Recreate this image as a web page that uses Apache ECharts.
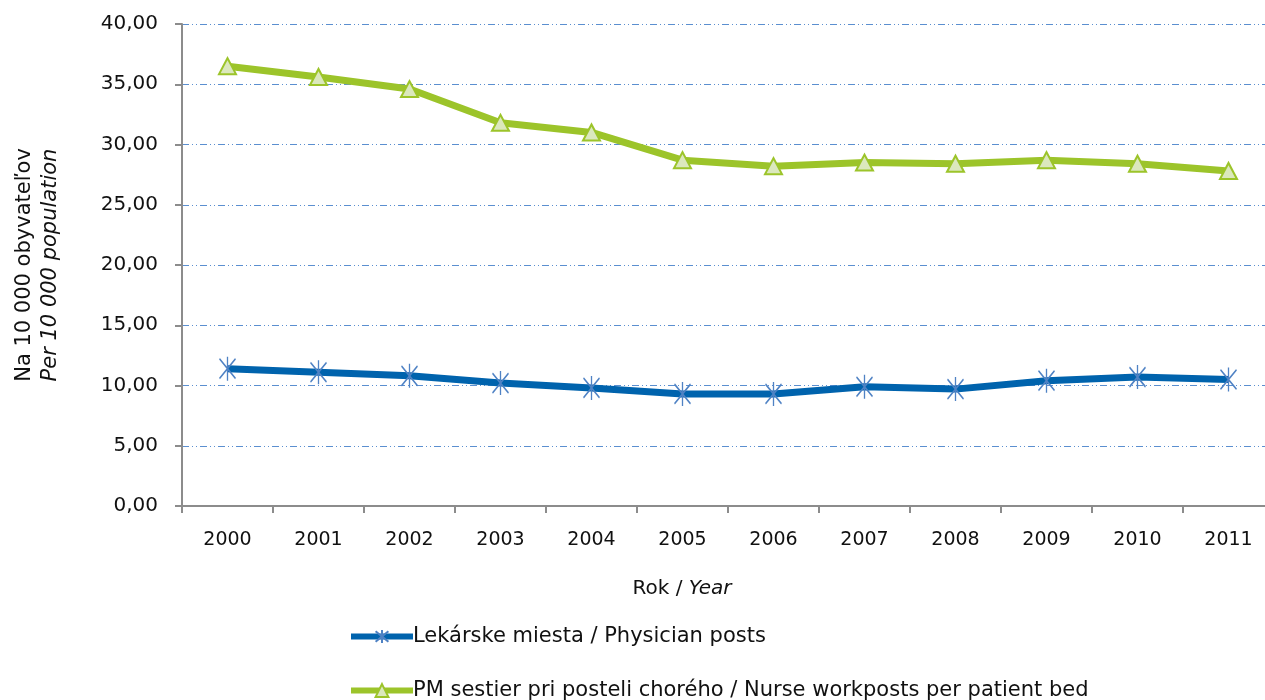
<!DOCTYPE html>
<html>
<head>
<meta charset="utf-8">
<script src="https://cdn.jsdelivr.net/npm/echarts@6/dist/echarts.min.js"></script>
<style>html,body{margin:0;padding:0;background:#fff}#c{width:1265px;height:700px}</style>
</head>
<body>
<div id="c"></div>
<script>
const years = ['2000','2001','2002','2003','2004','2005','2006','2007','2008','2009','2010','2011'];
const physicianPosts = [11.4, 11.1, 10.8, 10.2, 9.8, 9.3, 9.3, 9.9, 9.7, 10.4, 10.7, 10.5];
const nursePosts = [36.5, 35.6, 34.6, 31.8, 31.0, 28.7, 28.2, 28.5, 28.4, 28.7, 28.4, 27.8];
const yTicks = {min: 0, max: 40, interval: 5};
const physicianName = 'Lekárske miesta / Physician posts';
const nurseName = 'PM sestier pri posteli chorého / Nurse workposts per patient bed';

const font = 'DejaVu Sans';
const legendCommon = {
  orient: 'horizontal',
  left: 343,
  itemWidth: 62,
  itemHeight: 16,
  lineStyle: {width: 6},
  textStyle: {color: '#111', fontSize: 21, fontFamily: font, padding: [0, 0, 0, -5]}
};
const chart = echarts.init(document.getElementById('c'));
chart.setOption({
  animation: false,
  textStyle: {fontFamily: font},
  grid: {left: 182, right: -9, top: 24, bottom: 194, outerBoundsMode: 'none', containLabel: false},
  xAxis: {
    type: 'category',
    data: years,
    boundaryGap: true,
    axisLine: {lineStyle: {color: '#8c8c8c', width: 2}},
    axisTick: {show: true, length: 7, lineStyle: {color: '#8c8c8c', width: 2}},
    axisLabel: {color: '#111', fontSize: 19, margin: 25, fontFamily: font},
    name: 'Rok / {i|Year}',
    nameLocation: 'middle',
    nameGap: 73,
    nameTextStyle: {color: '#111', fontSize: 20, fontFamily: font, padding: [0, 92, 0, 0],
      rich: {i: {fontStyle: 'italic', fontSize: 20, color: '#111', fontFamily: font}}}
  },
  yAxis: {
    type: 'value',
    min: yTicks.min, max: yTicks.max, interval: yTicks.interval,
    axisLine: {show: true, lineStyle: {color: '#8c8c8c', width: 2}},
    axisTick: {show: true, length: 7, inside: false, lineStyle: {color: '#8c8c8c', width: 2}},
    axisLabel: {color: '#111', fontSize: 20, margin: 24, fontFamily: font,
      formatter: v => v.toFixed(2).replace('.', ',')},
    splitLine: {show: true, lineStyle: {color: '#5b8fd0', width: 1, type: [7, 3, 1, 3, 1, 3]}},
    name: 'Na 10 000 obyvateľov\n{i|Per 10 000 population}',
    nameLocation: 'middle',
    nameGap: 118,
    nameRotate: 90,
    nameTextStyle: {color: '#111', fontSize: 21, fontFamily: font, lineHeight: 26,
      rich: {i: {fontStyle: 'italic', fontSize: 21, color: '#111', fontFamily: font, lineHeight: 26}}}
  },
  legend: [
    Object.assign({}, legendCommon, {top: 621, data: [physicianName]}),
    Object.assign({}, legendCommon, {top: 675, data: [nurseName]})
  ],
  series: [
    {
      name: physicianName,
      type: 'line',
      data: physicianPosts,
      lineStyle: {color: '#0063ad', width: 7},
      symbol: 'path://M0,-11 L0,11 M-7,-9 L7,9 M-7,9 L7,-9 M0,-11 Z',
      symbolSize: [16, 24],
      itemStyle: {color: '#0063ad', borderColor: '#4f82c4', borderWidth: 1.6},
      z: 3
    },
    {
      name: nurseName,
      type: 'line',
      data: nursePosts,
      lineStyle: {color: '#9cc42a', width: 7},
      symbol: 'triangle',
      symbolSize: [17, 16],
      itemStyle: {color: '#dbe8bd', borderColor: '#9cc42a', borderWidth: 2},
      z: 3
    }
  ]
});
</script>
</body>
</html>
